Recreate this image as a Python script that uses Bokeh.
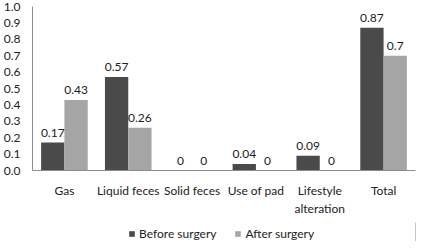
from bokeh.plotting import figure
from bokeh.layouts import column
from bokeh.models import ColumnDataSource, FactorRange, FixedTicker, Legend, LegendItem, NumeralTickFormatter
from bokeh.transform import dodge
from bokeh.core.properties import value
from bokeh.embed import file_html
from bokeh.resources import INLINE

categories = ["Gas", "Liquid feces", "Solid feces", "Use of pad", "Lifestyle\nalteration", "Total"]
before = [0.17, 0.57, 0.0, 0.04, 0.09, 0.87]
after = [0.43, 0.26, 0.0, 0.0, 0.0, 0.70]
series_names = ["Before surgery", "After surgery"]
y_ticks = [0.0, 0.1, 0.2, 0.3, 0.4, 0.5, 0.6, 0.7, 0.8, 0.9, 1.0]

FONT = "Lato"
DARK = "#4a4a4a"
LIGHT = "#a5a5a5"
TXT = "#222222"

src = ColumnDataSource(dict(
    cat=categories,
    before=before,
    after=after,
    before_lbl=[f"{v:g}" for v in before],
    after_lbl=[f"{v:g}" for v in after],
))

p = figure(x_range=FactorRange(*categories), y_range=(0, 1.0),
           width=417, height=222, output_backend="svg", toolbar_location=None,
           min_border_top=6, min_border_right=2, min_border_left=31, min_border_bottom=52)

w = 0.365
p.vbar(x=dodge("cat", -w / 2, range=p.x_range), top="before", width=w, source=src,
       fill_color=DARK, line_color=None)
p.vbar(x=dodge("cat", w / 2, range=p.x_range), top="after", width=w, source=src,
       fill_color=LIGHT, line_color=None)

for off, col, lbl in [(-w / 2, "before", "before_lbl"), (w / 2, "after", "after_lbl")]:
    p.text(x=dodge("cat", off, range=p.x_range), y=col, text=lbl, source=src,
           text_align="center", text_baseline="bottom", y_offset=-6,
           text_font=value(FONT), text_font_size="12px", text_color=TXT)

p.xgrid.visible = False
p.ygrid.visible = False
p.outline_line_color = None

p.yaxis.ticker = FixedTicker(ticks=y_ticks)
p.yaxis.formatter = NumeralTickFormatter(format="0.0")
for ax in (p.xaxis, p.yaxis):
    ax.major_tick_line_color = None
    ax.minor_tick_line_color = None
    ax.axis_line_color = "#8c8c8c"
    ax.major_label_text_font = FONT
    ax.major_label_text_font_size = "12px"
    ax.major_label_text_color = TXT
p.yaxis.major_label_standoff = 6
p.xaxis.major_label_standoff = 6

# legend strip
lg = figure(width=417, height=19, x_range=(0, 1), y_range=(0, 1), output_backend="svg",
            toolbar_location=None, min_border=0)
lg.axis.visible = False
lg.grid.visible = False
lg.outline_line_color = None
d1 = lg.vbar(x=[5], top=[5], width=0.1, fill_color=DARK, line_color=None)
d2 = lg.vbar(x=[5], top=[5], width=0.1, fill_color=LIGHT, line_color=None)
legend = Legend(items=[LegendItem(label=series_names[0], renderers=[d1]),
                       LegendItem(label=series_names[1], renderers=[d2])],
                orientation="horizontal", location=(96, 0),
                label_text_font=FONT, label_text_font_size="12px", label_text_color=TXT,
                glyph_width=7, glyph_height=7, spacing=18, label_standoff=4,
                border_line_color=None, background_fill_alpha=0, margin=0, padding=2)
lg.add_layout(legend, "center")

open("out.html", "w").write(file_html(column(p, lg, spacing=0), INLINE))
